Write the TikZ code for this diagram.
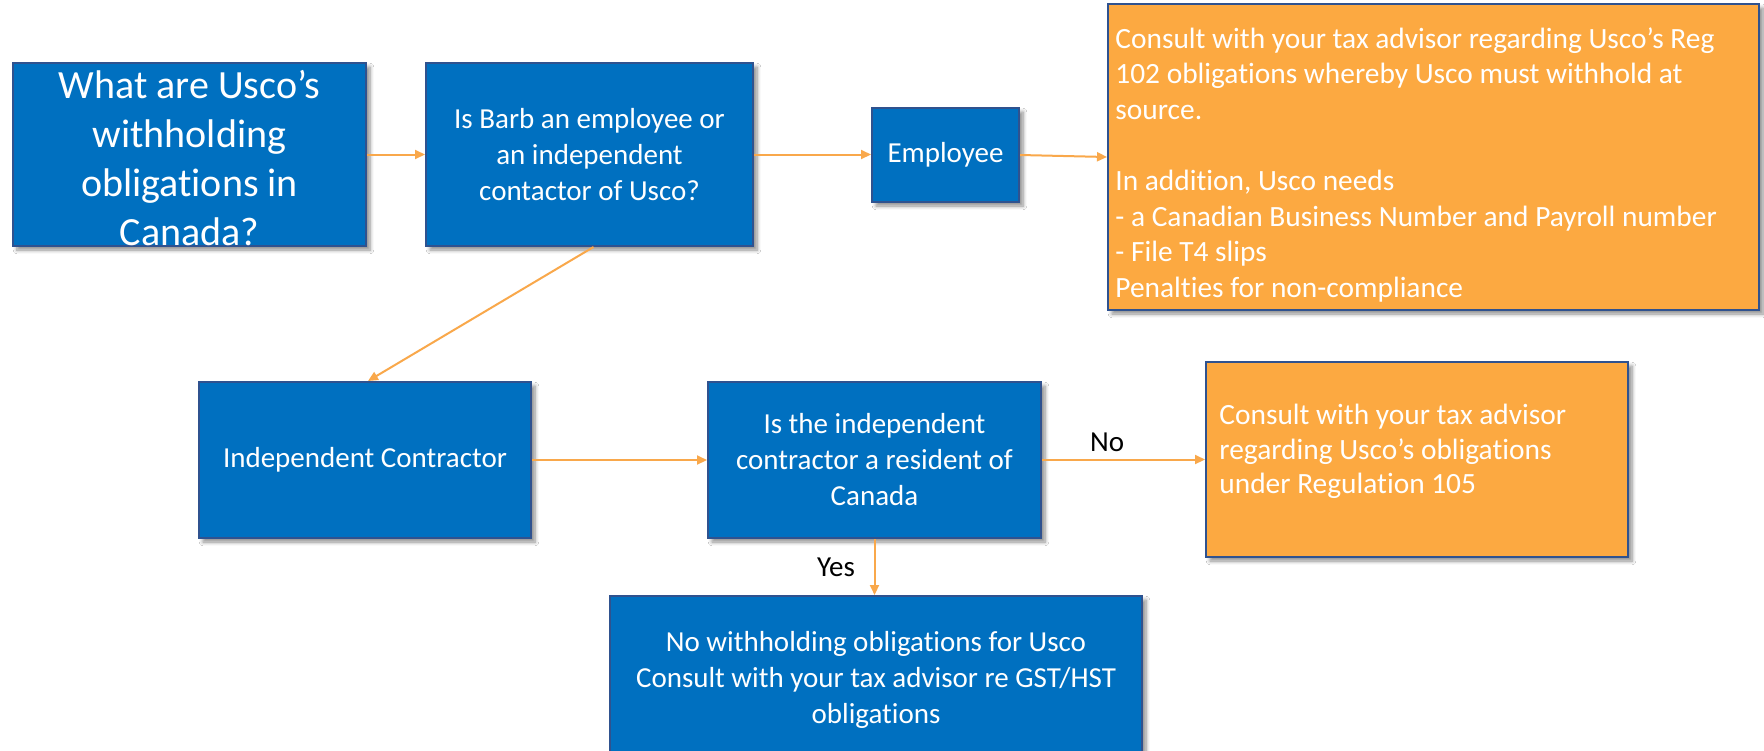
\documentclass[tikz,border=0pt]{standalone}
\usepackage{fontspec}
\setmainfont{Carlito}[Ligatures={NoCommon,NoRare}]
\usetikzlibrary{arrows.meta,shadows.blur}

\definecolor{boxblue}{HTML}{0070C0}
\definecolor{edgeblue}{HTML}{2F528F}
\definecolor{boxorange}{HTML}{FCA941}
\definecolor{linkorange}{HTML}{F9A84B}

\newcommand\mainsize{\fontsize{14.7}{17.8}\selectfont}
\newcommand\boxsize{\fontsize{14.5}{18}\selectfont}

\tikzset{
  flowbox/.style={draw=edgeblue, line width=1pt, fill=boxblue, text=white,
    align=center, inner sep=0pt, font=\boxsize,
    blur shadow={shadow xshift=2pt, shadow yshift=-2pt,
      shadow blur steps=6, shadow opacity=45}},
  notebox/.style={flowbox, fill=boxorange},
  notetext/.style={text=white, align=left, inner sep=0pt, font=\mainsize},
  link/.style={draw=linkorange, line width=1pt,
    -{Triangle[length=5pt,width=4.5pt]}},
  tag/.style={font=\boxsize, text=black},
}

\begin{document}
\begin{tikzpicture}[x=0.5pt,y=-0.5pt]
  \useasboundingbox (0,0) rectangle (1764,750);
  \clip (0,0) rectangle (1764,750);
  \fill[white] (0,0) rectangle (1764,750);

  % top row
  \node[flowbox, minimum width=176.5pt, minimum height=91.5pt] (q1) at (189.5,154.5) {};
  \node[text=white, align=center, inner sep=0pt, font=\fontsize{20}{24.5}\selectfont]
    (q1t) at ([yshift=-2pt]q1.center)
    {What are Usco’s\\withholding\\obligations in\\Canada?};

  \node[flowbox, minimum width=163.5pt, minimum height=91.5pt] (q2) at (589.5,154.5)
    {Is Barb an employee or\\an independent\\contactor of Usco?};

  \node[flowbox, minimum width=73.5pt, minimum height=47pt] (emp) at (945.5,155) {Employee};

  \node[notebox, minimum width=325.5pt, minimum height=153pt] (adv1) at (1433.5,157) {};
  \node[notetext, anchor=west] (adv1t) at ([xshift=4pt, yshift=-3.9pt]adv1.west)
    {Consult with your tax advisor regarding Usco’s Reg\\
     102 obligations whereby Usco must withhold at\\
     source.\\[17.8pt]
     In addition, Usco needs\\
     - a Canadian Business Number and Payroll number\\
     - File T4 slips\\
     Penalties for non-compliance};

  % middle row
  \node[flowbox, minimum width=166pt, minimum height=78pt] (ic) at (365,460)
    {Independent Contractor};
  \node[flowbox, minimum width=166.5pt, minimum height=78pt] (res) at (874.5,460)
    {Is the independent\\contractor a resident of\\Canada};

  \node[notebox, minimum width=211pt, minimum height=97.5pt] (adv2) at (1417,459.5) {};
  \node[notetext, anchor=north west, font=\fontsize{14.7}{17.25}\selectfont] (adv2t)
    at ([xshift=7pt, yshift=-21.5pt]adv2.north west)
    {Consult with your tax advisor\\regarding Usco’s obligations\\under Regulation 105};

  % bottom row
  \node[flowbox, minimum width=266pt, minimum height=81pt] (none) at (876,677) {};
  \node[text=white, align=center, inner sep=0pt, font=\boxsize] (nonet)
    at ([yshift=-1.5pt]none.center)
    {No withholding obligations for Usco\\Consult with your tax advisor re GST/HST\\obligations};

  % connectors
  \draw[link] (q1.east) -- (q2.west);
  \draw[link] (q2.east) -- (q2.east -| emp.west);
  \draw[link] (emp.east) -- (adv1.west);
  \draw[link] ([xshift=2pt]q2.south) -- ([xshift=1.5pt]ic.north);
  \draw[link] (ic.east) -- (res.west);
  \draw[link] (res.east |- adv2.west) -- node[tag, above, pos=0.4] (notag) {No} (adv2.west);
  \draw[link] (res.south) -- node[tag, left, xshift=-6pt] (yestag) {Yes} (res.south |- none.north);
\end{tikzpicture}
\end{document}
